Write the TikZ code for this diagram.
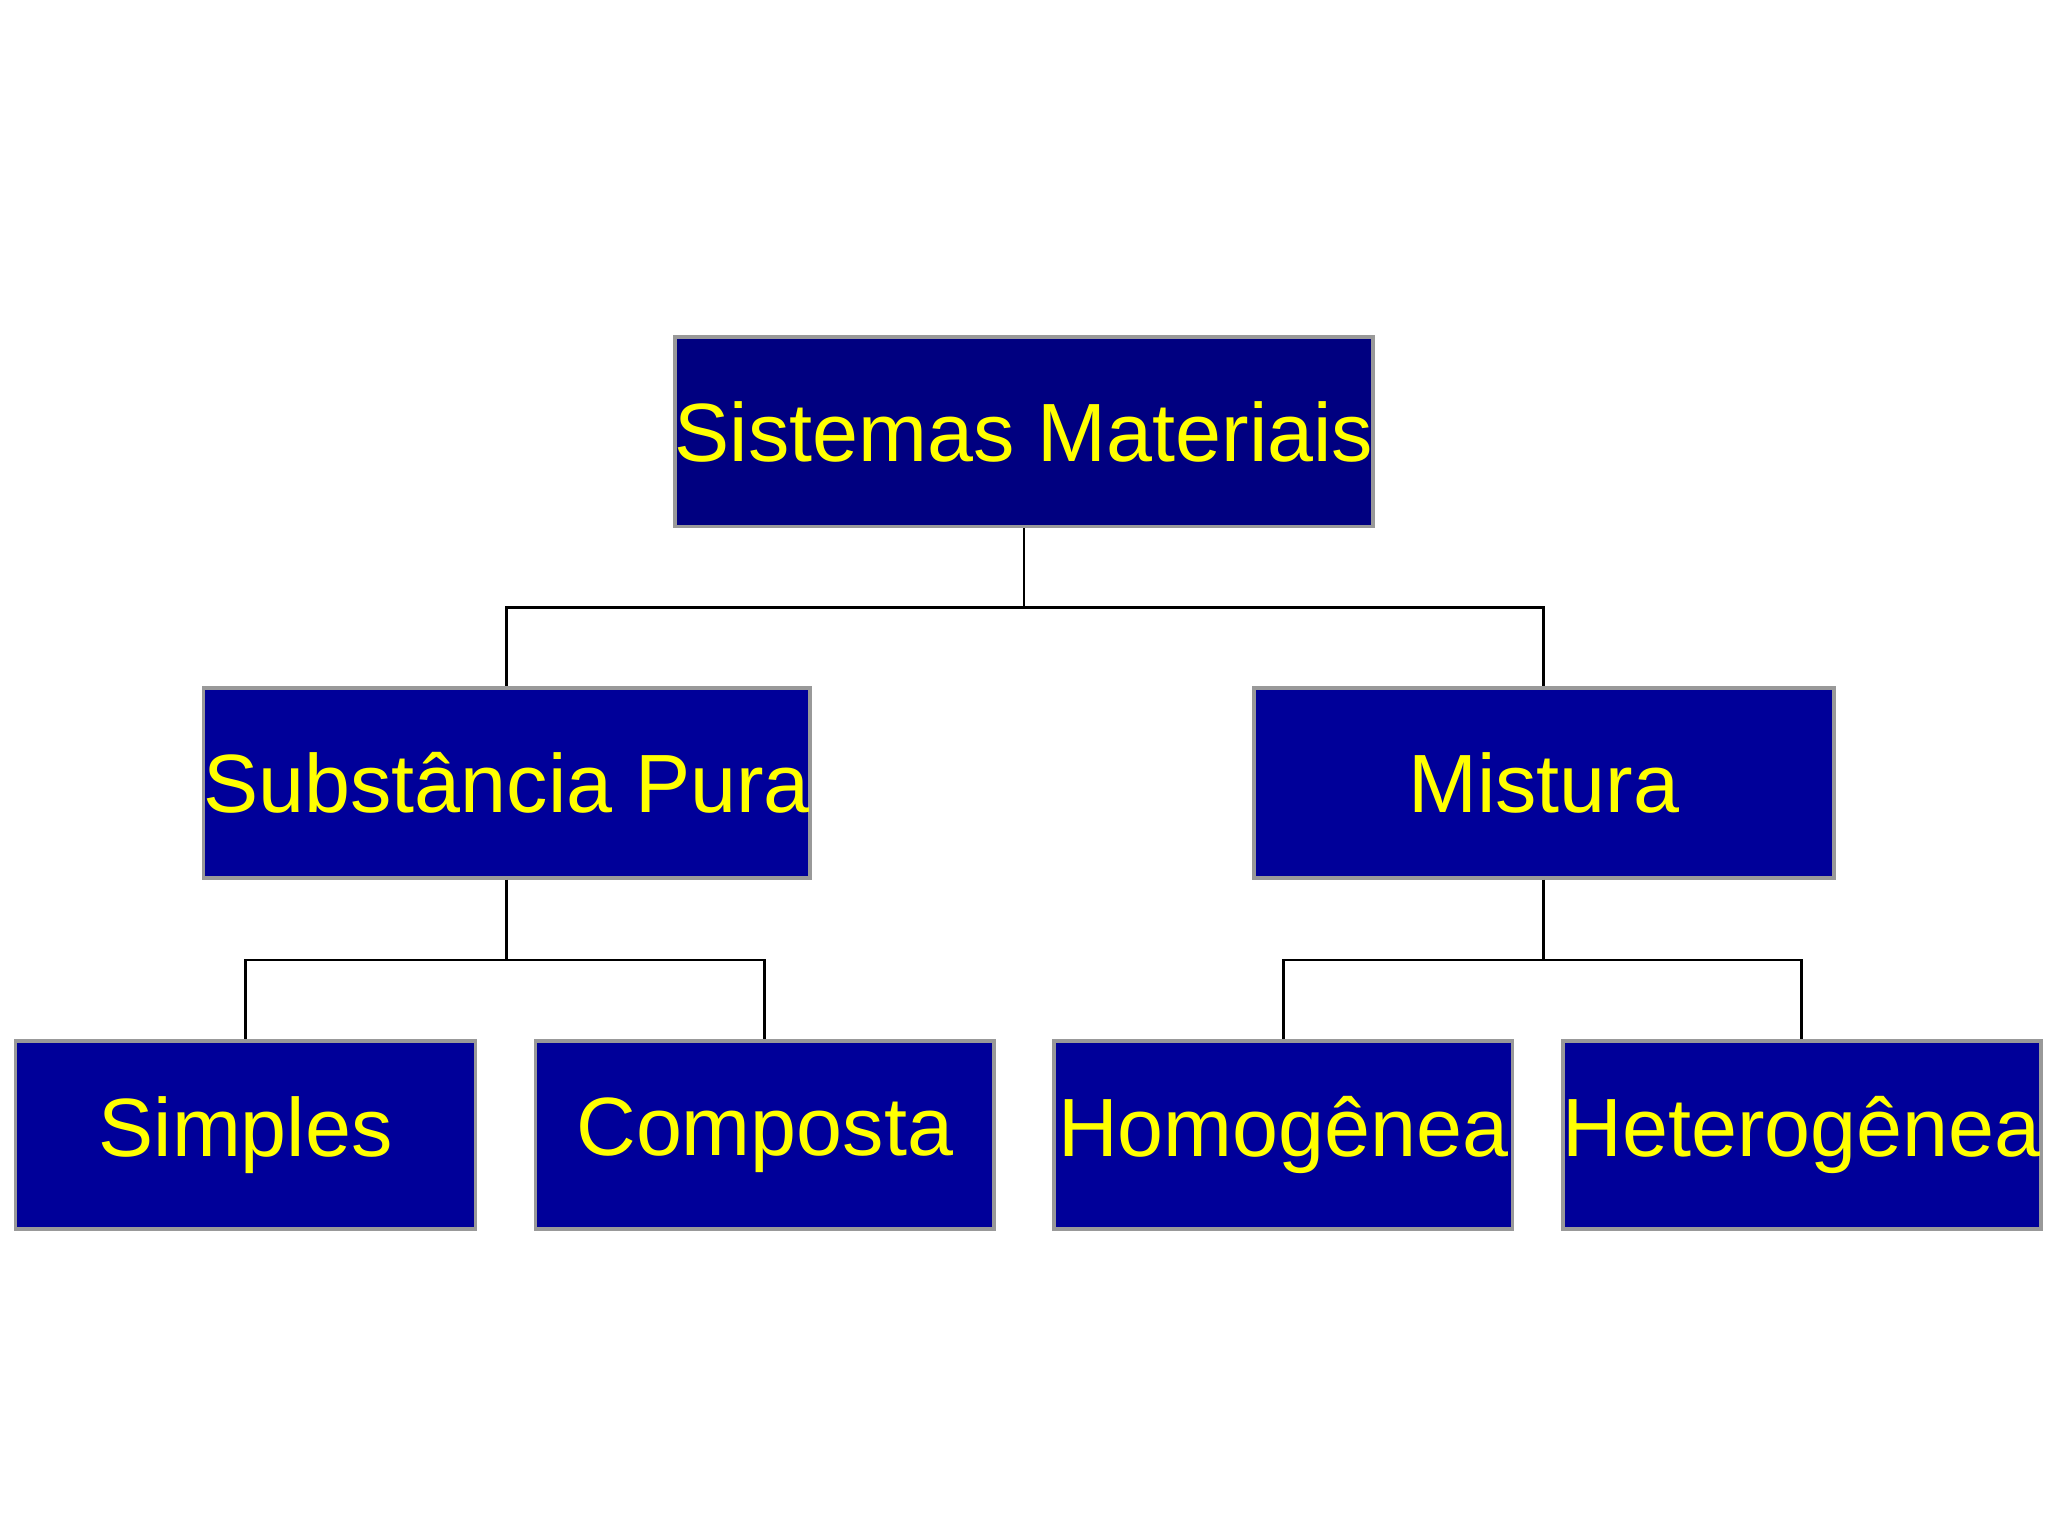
\documentclass[tikz,border=0pt]{standalone}
\usepackage{fontspec}
\setmainfont{Liberation Sans}
\definecolor{boxblue}{HTML}{000099}
\definecolor{topblue}{HTML}{000080}
\definecolor{txtyellow}{HTML}{FFFF00}
\begin{document}
\begin{tikzpicture}[x=0.01cm,y=-0.01cm,
  box/.style={draw=gray!80,line width=0.8pt,fill=boxblue,text=txtyellow,inner sep=0pt,
    font=\fontsize{18}{20}\selectfont},
  conn/.style={black,line width=0.6pt}]
\useasboundingbox (0,0) rectangle (1568,1176);
\fill[white] (0,0) rectangle (1568,1176);
\node[box,fill=topblue,minimum width=4.96cm,minimum height=1.45cm] (top) at (784,330.5) {Sistemas Materiais};
\node[box,minimum width=4.44cm,minimum height=1.45cm] (sub) at (388,599.5) {Substância Pura};
\node[box,minimum width=4.44cm,minimum height=1.45cm] (mis) at (1182,599.5) {Mistura};
\node[box,minimum width=3.52cm,minimum height=1.44cm] (sim) at (188,869) {Simples};
\node[box,minimum width=3.51cm,minimum height=1.44cm] (com) at (585.5,869) {Composta};
\node[box,minimum width=3.51cm,minimum height=1.44cm] (hom) at (982.5,869) {Homogênea};
\node[box,minimum width=3.51cm,minimum height=1.44cm] (het) at (1379.5,869) {Heterogênea};
\coordinate (b1) at (784,465);
\coordinate (b2) at (388,735);
\coordinate (b3) at (1182,735);
\draw[conn] (top.south) -- (b1);
\draw[conn] (b1) -| (sub.north);
\draw[conn] (b1) -| (mis.north);
\draw[conn] (sub.south) -- (b2);
\draw[conn] (b2) -| (sim.north);
\draw[conn] (b2) -| (com.north);
\draw[conn] (mis.south) -- (b3);
\draw[conn] (b3) -| (hom.north);
\draw[conn] (b3) -| (het.north);
\end{tikzpicture}
\end{document}
